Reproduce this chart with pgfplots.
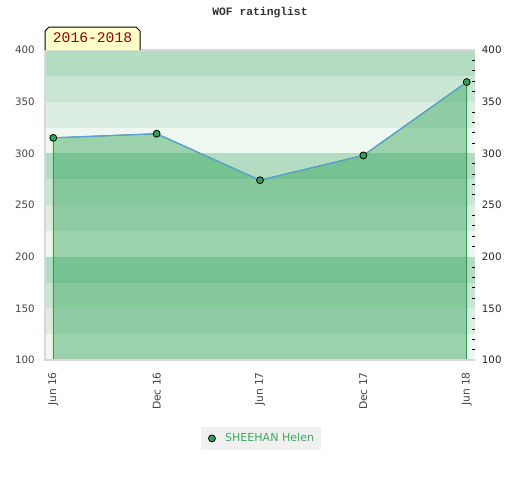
\documentclass[border=0pt]{standalone}
\usepackage{pgfplots}
\usepackage{pgfplotstable}
\pgfplotsset{compat=1.18}
\usepackage{fontspec}
\setmainfont{DejaVu Sans}
\newfontfamily\monofont{Liberation Mono}
\definecolor{bandA}{HTML}{B3DCC2}
\definecolor{bandB}{HTML}{C9E6D3}
\definecolor{bandC}{HTML}{DCEDE2}
\definecolor{bandD}{HTML}{EFF7F1}
\definecolor{fillGreen}{HTML}{239F4B}
\definecolor{edgeGreen}{HTML}{3A9A5A}
\definecolor{markGreen}{HTML}{33A05A}
\definecolor{lineBlue}{HTML}{5CA0D8}
\definecolor{bordergray}{HTML}{D8D8D8}
\definecolor{labgray}{HTML}{444444}
\definecolor{legbg}{HTML}{F0F0F0}
\definecolor{legtext}{HTML}{3CAA5F}
\definecolor{boxfill}{HTML}{FFFFCC}
\definecolor{boxtext}{HTML}{990000}
\pgfplotstableread{
x y
0 315
1 319
2 274
3 298
4 369
}\ratingdata
\begin{document}
\begin{tikzpicture}
\path[use as bounding box] (0pt,0pt) rectangle (390pt,360pt);
\begin{axis}[
  name=main,
  at={(33.75pt,90pt)}, anchor=south west,
  scale only axis, width=322.5pt, height=232.5pt,
  xmin=-0.08, xmax=4.08, ymin=100, ymax=400,
  axis line style={draw=none},
  xtick={0,1,2,3,4},
  xticklabels={Jun 16,Dec 16,Jun 17,Dec 17,Jun 18},
  ytick={100,150,...,400},
  xtick pos=bottom, ytick pos=left,
  major tick length=0pt,
  tick style={draw=none},
  x tick label style={yshift=-9pt, rotate=90, anchor=east, inner sep=0pt,
    font=\fontsize{8pt}{9pt}\selectfont, text=labgray},
  y tick label style={xshift=-7.5pt, anchor=east, inner sep=0pt,
    font=\fontsize{7.7pt}{9pt}\selectfont, text=labgray},
  /pgf/number format/assume math mode=true,
  legend style={at={(axis description cs:0.502,-0.216)}, anchor=north,
    fill=legbg, draw=none, inner xsep=3pt, inner ysep=2.5pt,
    font=\fontsize{8.3pt}{9pt}\selectfont, text=legtext},
  legend image code/.code={%
    \path[draw=none,fill=none] (0pt,0pt) rectangle (13.1pt,0pt);
    \path[#1,draw=none] (0pt,0pt);
    \draw[#1] plot coordinates {(5.25pt,0pt)};},
]
\fill[bandA] (axis cs:-0.08,375) rectangle (axis cs:4.08,400);
\fill[bandB] (axis cs:-0.08,350) rectangle (axis cs:4.08,375);
\fill[bandC] (axis cs:-0.08,325) rectangle (axis cs:4.08,350);
\fill[bandD] (axis cs:-0.08,300) rectangle (axis cs:4.08,325);
\fill[bandA] (axis cs:-0.08,275) rectangle (axis cs:4.08,300);
\fill[bandB] (axis cs:-0.08,250) rectangle (axis cs:4.08,275);
\fill[bandC] (axis cs:-0.08,225) rectangle (axis cs:4.08,250);
\fill[bandD] (axis cs:-0.08,200) rectangle (axis cs:4.08,225);
\fill[bandA] (axis cs:-0.08,175) rectangle (axis cs:4.08,200);
\fill[bandB] (axis cs:-0.08,150) rectangle (axis cs:4.08,175);
\fill[bandC] (axis cs:-0.08,125) rectangle (axis cs:4.08,150);
\fill[bandD] (axis cs:-0.08,100) rectangle (axis cs:4.08,125);
\addplot[draw=edgeGreen, line width=0.75pt, fill=fillGreen, fill opacity=0.41, forget plot] table[x=x,y=y] {\ratingdata} \closedcycle;
\addplot[color=lineBlue, line width=0.9pt, no marks, forget plot] table[x=x,y=y] {\ratingdata};
\addplot[only marks, mark=*, mark size=2.6pt, mark options={fill=markGreen, draw=black, line width=0.6pt}] table[x=x,y=y] {\ratingdata};
\addlegendentry{SHEEHAN Helen}
\end{axis}
\begin{axis}[
  at={(33.75pt,90pt)}, anchor=south west,
  scale only axis, width=322.5pt, height=232.5pt,
  xmin=-0.08, xmax=4.08, ymin=100, ymax=400,
  hide x axis,
  axis y line*=right,
  y axis line style={draw=none},
  ytick={100,150,...,400},
  minor y tick num=4,
  major tick length=0pt, minor tick length=2.5pt,
  tick align=inside,
  minor tick style={black, line width=0.6pt},
  y tick label style={xshift=5pt, anchor=west, inner sep=0pt,
    font=\fontsize{7.7pt}{9pt}\selectfont, text=black!85},
  /pgf/number format/assume math mode=true,
]
\end{axis}
\draw[bordergray, line width=1.1pt] (main.north east) -- (main.north west) -- (main.south west) -- (main.south east);
\node[font=\monofont\bfseries\fontsize{8.5pt}{10pt}\selectfont, text=black!80] at (195pt,350.25pt) {WOF ratinglist};
\filldraw[fill=boxfill, draw=black, line width=0.75pt] (33.75pt,322.5pt) -- (33.75pt,336.75pt) -- (36.75pt,339.75pt) -- (102pt,339.75pt) -- (105pt,336.75pt) -- (105pt,322.5pt);
\node[font=\monofont\fontsize{11pt}{12pt}\selectfont, text=boxtext] at (69.4pt,331.5pt) {2016-2018};
\end{tikzpicture}
\end{document}
